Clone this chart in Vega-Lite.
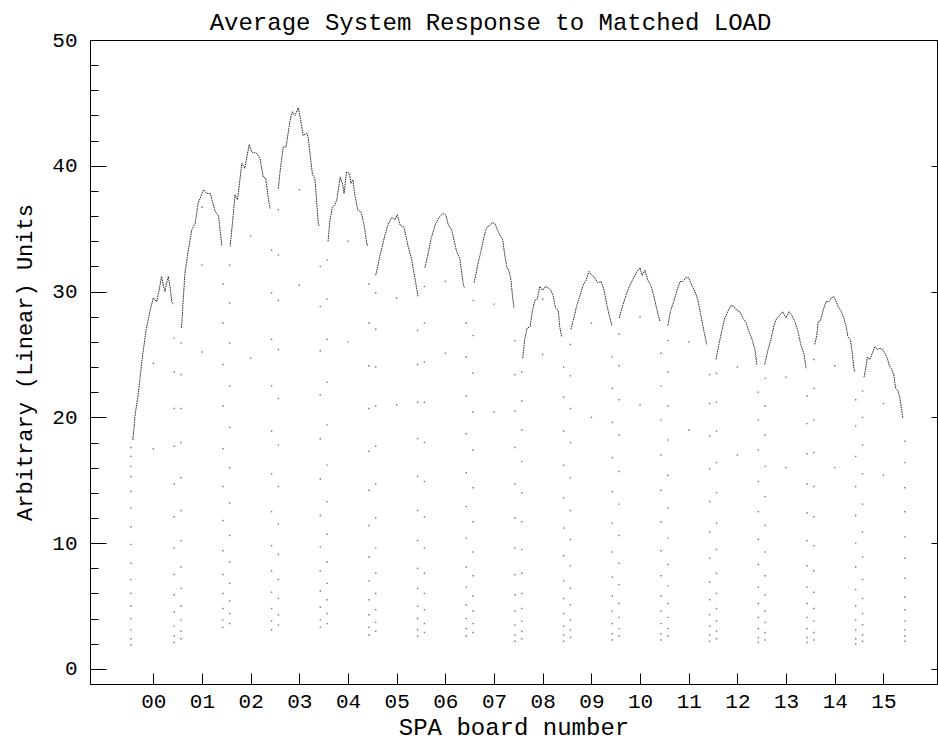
{
  "$schema": "https://vega.github.io/schema/vega-lite/v6.json",
  "width": 847,
  "height": 644,
  "autosize": "none",
  "padding": {"left": 90, "top": 40, "right": 1, "bottom": 57},
  "background": "white",
  "title": {"text": "Average System Response to Matched LOAD", "font": "Liberation Mono", "fontSize": 24, "fontWeight": "normal", "color": "black", "anchor": "middle", "frame": "group", "dx": -23, "baseline": "alphabetic", "offset": -25},
  "config": {
    "font": "Liberation Mono",
    "view": {"stroke": "black", "strokeWidth": 1},
    "axis": {"grid": false, "domainColor": "black", "tickColor": "black", "labelColor": "black", "titleColor": "black", "labelFont": "Liberation Mono", "titleFont": "Liberation Mono", "titleFontWeight": "normal", "domainWidth": 1, "tickWidth": 1}
  },
  "datasets": {
    "curve": [
      {"b":0,"x":-0.42,"y":18.2},{"b":0,"x":-0.37,"y":20.3},{"b":0,"x":-0.31,"y":21.8},{"b":0,"x":-0.23,"y":24.6},{"b":0,"x":-0.15,"y":26.9},{"b":0,"x":-0.07,"y":28.4},{"b":0,"x":0.0,"y":29.5},{"b":0,"x":0.07,"y":29.2},{"b":0,"x":0.12,"y":30.1},{"b":0,"x":0.17,"y":31.2},{"b":0,"x":0.21,"y":30.4},{"b":0,"x":0.24,"y":30.0},{"b":0,"x":0.27,"y":30.6},{"b":0,"x":0.31,"y":31.2},{"b":0,"x":0.35,"y":30.2},{"b":0,"x":0.38,"y":29.2},{"b":0,"x":0.41,"y":29.0},
      {"b":1,"x":0.58,"y":27.1},{"b":1,"x":0.65,"y":31.5},{"b":1,"x":0.72,"y":33.3},{"b":1,"x":0.79,"y":34.9},{"b":1,"x":0.86,"y":35.4},{"b":1,"x":0.92,"y":37.0},{"b":1,"x":0.99,"y":37.7},{"b":1,"x":1.03,"y":38.1},{"b":1,"x":1.1,"y":37.8},{"b":1,"x":1.17,"y":37.8},{"b":1,"x":1.27,"y":36.4},{"b":1,"x":1.34,"y":36.0},{"b":1,"x":1.41,"y":33.6},
      {"b":2,"x":1.58,"y":33.6},{"b":2,"x":1.64,"y":36.0},{"b":2,"x":1.68,"y":37.7},{"b":2,"x":1.73,"y":37.3},{"b":2,"x":1.82,"y":40.2},{"b":2,"x":1.88,"y":39.8},{"b":2,"x":1.97,"y":41.7},{"b":2,"x":2.02,"y":41.1},{"b":2,"x":2.12,"y":41.0},{"b":2,"x":2.19,"y":40.6},{"b":2,"x":2.26,"y":39.1},{"b":2,"x":2.31,"y":39.0},{"b":2,"x":2.36,"y":37.5},{"b":2,"x":2.4,"y":36.6},
      {"b":3,"x":2.57,"y":38.2},{"b":3,"x":2.6,"y":39.4},{"b":3,"x":2.67,"y":41.5},{"b":3,"x":2.73,"y":41.5},{"b":3,"x":2.77,"y":42.6},{"b":3,"x":2.82,"y":43.8},{"b":3,"x":2.86,"y":44.3},{"b":3,"x":2.91,"y":44.0},{"b":3,"x":2.98,"y":44.6},{"b":3,"x":3.02,"y":43.8},{"b":3,"x":3.08,"y":42.4},{"b":3,"x":3.15,"y":42.6},{"b":3,"x":3.18,"y":42.3},{"b":3,"x":3.27,"y":39.3},{"b":3,"x":3.32,"y":39.0},{"b":3,"x":3.39,"y":35.4},{"b":3,"x":3.41,"y":35.2},
      {"b":4,"x":3.59,"y":34.0},{"b":4,"x":3.63,"y":35.7},{"b":4,"x":3.68,"y":36.7},{"b":4,"x":3.73,"y":36.9},{"b":4,"x":3.77,"y":37.3},{"b":4,"x":3.84,"y":39.1},{"b":4,"x":3.89,"y":38.5},{"b":4,"x":3.92,"y":37.8},{"b":4,"x":3.97,"y":39.5},{"b":4,"x":4.03,"y":39.4},{"b":4,"x":4.06,"y":38.6},{"b":4,"x":4.1,"y":38.9},{"b":4,"x":4.14,"y":37.7},{"b":4,"x":4.2,"y":36.5},{"b":4,"x":4.27,"y":36.3},{"b":4,"x":4.33,"y":35.3},{"b":4,"x":4.39,"y":33.7},{"b":4,"x":4.43,"y":33.7},
      {"b":5,"x":4.57,"y":31.3},{"b":5,"x":4.66,"y":32.9},{"b":5,"x":4.76,"y":34.5},{"b":5,"x":4.82,"y":35.3},{"b":5,"x":4.9,"y":35.9},{"b":5,"x":4.96,"y":35.7},{"b":5,"x":5.01,"y":36.1},{"b":5,"x":5.07,"y":35.3},{"b":5,"x":5.15,"y":35.1},{"b":5,"x":5.23,"y":33.7},{"b":5,"x":5.31,"y":32.5},{"b":5,"x":5.4,"y":30.5},{"b":5,"x":5.44,"y":29.6},
      {"b":6,"x":5.58,"y":31.9},{"b":6,"x":5.64,"y":32.9},{"b":6,"x":5.7,"y":34.1},{"b":6,"x":5.79,"y":35.3},{"b":6,"x":5.87,"y":35.9},{"b":6,"x":5.95,"y":36.2},{"b":6,"x":6.01,"y":36.1},{"b":6,"x":6.06,"y":35.3},{"b":6,"x":6.13,"y":34.9},{"b":6,"x":6.16,"y":34.4},{"b":6,"x":6.23,"y":33.2},{"b":6,"x":6.3,"y":32.6},{"b":6,"x":6.33,"y":31.7},{"b":6,"x":6.37,"y":30.5},{"b":6,"x":6.4,"y":30.3},
      {"b":7,"x":6.59,"y":30.7},{"b":7,"x":6.64,"y":31.6},{"b":7,"x":6.68,"y":32.4},{"b":7,"x":6.72,"y":33.0},{"b":7,"x":6.78,"y":34.1},{"b":7,"x":6.83,"y":34.9},{"b":7,"x":6.88,"y":35.2},{"b":7,"x":6.93,"y":35.3},{"b":7,"x":6.97,"y":35.5},{"b":7,"x":7.02,"y":35.4},{"b":7,"x":7.07,"y":34.9},{"b":7,"x":7.12,"y":34.5},{"b":7,"x":7.18,"y":34.1},{"b":7,"x":7.22,"y":32.9},{"b":7,"x":7.26,"y":32.0},{"b":7,"x":7.31,"y":31.6},{"b":7,"x":7.35,"y":30.9},{"b":7,"x":7.38,"y":29.6},{"b":7,"x":7.41,"y":28.7},
      {"b":8,"x":7.59,"y":24.7},{"b":8,"x":7.63,"y":26.2},{"b":8,"x":7.68,"y":27.1},{"b":8,"x":7.74,"y":27.2},{"b":8,"x":7.79,"y":28.5},{"b":8,"x":7.84,"y":29.3},{"b":8,"x":7.89,"y":29.4},{"b":8,"x":7.94,"y":30.4},{"b":8,"x":8.0,"y":30.1},{"b":8,"x":8.05,"y":30.4},{"b":8,"x":8.11,"y":30.3},{"b":8,"x":8.17,"y":30.1},{"b":8,"x":8.22,"y":29.6},{"b":8,"x":8.26,"y":28.7},{"b":8,"x":8.32,"y":28.5},{"b":8,"x":8.35,"y":27.2},{"b":8,"x":8.39,"y":26.4},
      {"b":9,"x":8.58,"y":27.0},{"b":9,"x":8.64,"y":27.9},{"b":9,"x":8.7,"y":28.9},{"b":9,"x":8.76,"y":29.6},{"b":9,"x":8.83,"y":30.5},{"b":9,"x":8.89,"y":30.9},{"b":9,"x":8.95,"y":31.6},{"b":9,"x":9.01,"y":31.3},{"b":9,"x":9.07,"y":31.1},{"b":9,"x":9.13,"y":30.7},{"b":9,"x":9.2,"y":30.8},{"b":9,"x":9.26,"y":30.1},{"b":9,"x":9.32,"y":28.9},{"b":9,"x":9.38,"y":27.9},{"b":9,"x":9.42,"y":27.3},
      {"b":10,"x":9.57,"y":27.9},{"b":10,"x":9.63,"y":28.7},{"b":10,"x":9.71,"y":29.7},{"b":10,"x":9.79,"y":30.5},{"b":10,"x":9.87,"y":31.1},{"b":10,"x":9.94,"y":31.6},{"b":10,"x":10.0,"y":31.9},{"b":10,"x":10.04,"y":31.3},{"b":10,"x":10.1,"y":31.7},{"b":10,"x":10.16,"y":30.9},{"b":10,"x":10.22,"y":30.5},{"b":10,"x":10.28,"y":29.7},{"b":10,"x":10.35,"y":28.5},{"b":10,"x":10.41,"y":27.6},
      {"b":11,"x":10.57,"y":27.3},{"b":11,"x":10.63,"y":28.5},{"b":11,"x":10.7,"y":29.3},{"b":11,"x":10.76,"y":30.1},{"b":11,"x":10.82,"y":30.8},{"b":11,"x":10.88,"y":30.8},{"b":11,"x":10.94,"y":31.1},{"b":11,"x":11.0,"y":31.1},{"b":11,"x":11.06,"y":30.5},{"b":11,"x":11.13,"y":30.0},{"b":11,"x":11.19,"y":29.3},{"b":11,"x":11.25,"y":28.1},{"b":11,"x":11.31,"y":26.9},{"b":11,"x":11.37,"y":25.8},
      {"b":12,"x":11.56,"y":24.6},{"b":12,"x":11.62,"y":25.8},{"b":12,"x":11.68,"y":26.9},{"b":12,"x":11.74,"y":27.9},{"b":12,"x":11.8,"y":28.4},{"b":12,"x":11.87,"y":28.9},{"b":12,"x":11.93,"y":28.8},{"b":12,"x":11.99,"y":28.5},{"b":12,"x":12.05,"y":28.4},{"b":12,"x":12.11,"y":27.9},{"b":12,"x":12.17,"y":27.6},{"b":12,"x":12.24,"y":26.8},{"b":12,"x":12.3,"y":26.2},{"b":12,"x":12.36,"y":25.4},{"b":12,"x":12.4,"y":24.2},
      {"b":13,"x":12.56,"y":24.2},{"b":13,"x":12.63,"y":25.4},{"b":13,"x":12.69,"y":26.2},{"b":13,"x":12.75,"y":27.3},{"b":13,"x":12.81,"y":27.9},{"b":13,"x":12.87,"y":28.1},{"b":13,"x":12.93,"y":28.4},{"b":13,"x":13.0,"y":27.9},{"b":13,"x":13.06,"y":28.4},{"b":13,"x":13.12,"y":28.1},{"b":13,"x":13.18,"y":27.6},{"b":13,"x":13.24,"y":26.9},{"b":13,"x":13.3,"y":25.8},{"b":13,"x":13.37,"y":25.0},{"b":13,"x":13.41,"y":23.9},
      {"b":14,"x":13.59,"y":25.8},{"b":14,"x":13.63,"y":26.5},{"b":14,"x":13.66,"y":27.6},{"b":14,"x":13.71,"y":27.7},{"b":14,"x":13.76,"y":28.5},{"b":14,"x":13.82,"y":29.2},{"b":14,"x":13.88,"y":29.2},{"b":14,"x":13.93,"y":29.5},{"b":14,"x":13.98,"y":29.6},{"b":14,"x":14.02,"y":29.3},{"b":14,"x":14.07,"y":28.8},{"b":14,"x":14.12,"y":28.5},{"b":14,"x":14.17,"y":28.1},{"b":14,"x":14.23,"y":27.3},{"b":14,"x":14.27,"y":26.4},{"b":14,"x":14.32,"y":26.2},{"b":14,"x":14.36,"y":25.1},{"b":14,"x":14.39,"y":24.0},{"b":14,"x":14.41,"y":23.6},
      {"b":15,"x":14.6,"y":23.2},{"b":15,"x":14.64,"y":24.0},{"b":15,"x":14.67,"y":24.8},{"b":15,"x":14.72,"y":24.6},{"b":15,"x":14.78,"y":25.2},{"b":15,"x":14.82,"y":25.6},{"b":15,"x":14.88,"y":25.4},{"b":15,"x":14.93,"y":25.5},{"b":15,"x":14.98,"y":25.4},{"b":15,"x":15.03,"y":25.1},{"b":15,"x":15.08,"y":24.7},{"b":15,"x":15.12,"y":24.1},{"b":15,"x":15.16,"y":23.9},{"b":15,"x":15.21,"y":23.4},{"b":15,"x":15.25,"y":22.3},{"b":15,"x":15.3,"y":22.1},{"b":15,"x":15.34,"y":21.5},{"b":15,"x":15.37,"y":20.7},{"b":15,"x":15.4,"y":19.9}
    ],
    "drops": [
      {"x":-0.46,"y":1.9},{"x":-0.46,"y":2.4},{"x":-0.46,"y":3.1},{"x":-0.46,"y":4.0},{"x":-0.46,"y":5.0},{"x":-0.46,"y":6.0},{"x":-0.46,"y":7.1},{"x":-0.46,"y":8.4},{"x":-0.46,"y":9.9},{"x":-0.46,"y":11.3},{"x":-0.46,"y":12.8},{"x":-0.46,"y":14.1},{"x":-0.46,"y":15.3},{"x":-0.46,"y":16.1},{"x":-0.46,"y":16.9},{"x":-0.46,"y":17.6},
      {"x":0.43,"y":2.1},{"x":0.43,"y":2.6},{"x":0.43,"y":3.4},{"x":0.43,"y":4.5},{"x":0.43,"y":5.9},{"x":0.43,"y":7.5},{"x":0.43,"y":9.6},{"x":0.43,"y":12.1},{"x":0.43,"y":14.7},{"x":0.43,"y":17.7},{"x":0.43,"y":20.7},{"x":0.43,"y":23.6},{"x":0.43,"y":26.3},
      {"x":0.57,"y":2.4},{"x":0.57,"y":3.0},{"x":0.57,"y":3.9},{"x":0.57,"y":5.0},{"x":0.57,"y":6.4},{"x":0.57,"y":8.1},{"x":0.57,"y":10.2},{"x":0.57,"y":12.6},{"x":0.57,"y":15.2},{"x":0.57,"y":18.0},{"x":0.57,"y":20.7},{"x":0.57,"y":23.4},{"x":0.57,"y":25.9},
      {"x":1.43,"y":3.3},{"x":1.43,"y":3.9},{"x":1.43,"y":4.8},{"x":1.43,"y":6.0},{"x":1.43,"y":7.5},{"x":1.43,"y":9.4},{"x":1.43,"y":11.8},{"x":1.43,"y":14.5},{"x":1.43,"y":17.5},{"x":1.43,"y":20.9},{"x":1.43,"y":24.2},{"x":1.43,"y":27.5},{"x":1.43,"y":30.6},
      {"x":1.57,"y":3.6},{"x":1.57,"y":4.4},{"x":1.57,"y":5.4},{"x":1.57,"y":6.8},{"x":1.57,"y":8.5},{"x":1.57,"y":10.6},{"x":1.57,"y":13.2},{"x":1.57,"y":16.0},{"x":1.57,"y":19.2},{"x":1.57,"y":22.5},{"x":1.57,"y":25.9},{"x":1.57,"y":29.1},{"x":1.57,"y":32.1},
      {"x":2.43,"y":3.1},{"x":2.43,"y":3.8},{"x":2.43,"y":4.8},{"x":2.43,"y":6.1},{"x":2.43,"y":7.8},{"x":2.43,"y":9.8},{"x":2.43,"y":12.5},{"x":2.43,"y":15.5},{"x":2.43,"y":18.9},{"x":2.43,"y":22.5},{"x":2.43,"y":26.2},{"x":2.43,"y":29.9},{"x":2.43,"y":33.3},
      {"x":2.57,"y":3.5},{"x":2.57,"y":4.3},{"x":2.57,"y":5.6},{"x":2.57,"y":7.1},{"x":2.57,"y":9.1},{"x":2.57,"y":11.5},{"x":2.57,"y":14.5},{"x":2.57,"y":17.8},{"x":2.57,"y":21.5},{"x":2.57,"y":25.4},{"x":2.57,"y":29.3},{"x":2.57,"y":32.9},{"x":2.57,"y":36.5},
      {"x":3.43,"y":3.3},{"x":3.43,"y":3.9},{"x":3.43,"y":4.9},{"x":3.43,"y":6.2},{"x":3.43,"y":7.8},{"x":3.43,"y":9.7},{"x":3.43,"y":12.2},{"x":3.43,"y":15.1},{"x":3.43,"y":18.3},{"x":3.43,"y":21.8},{"x":3.43,"y":25.3},{"x":3.43,"y":28.8},{"x":3.43,"y":32.0},
      {"x":3.57,"y":3.6},{"x":3.57,"y":4.4},{"x":3.57,"y":5.5},{"x":3.57,"y":6.8},{"x":3.57,"y":8.5},{"x":3.57,"y":10.7},{"x":3.57,"y":13.3},{"x":3.57,"y":16.2},{"x":3.57,"y":19.4},{"x":3.57,"y":22.8},{"x":3.57,"y":26.2},{"x":3.57,"y":29.4},{"x":3.57,"y":32.5},
      {"x":4.43,"y":2.7},{"x":4.43,"y":3.3},{"x":4.43,"y":4.3},{"x":4.43,"y":5.5},{"x":4.43,"y":7.0},{"x":4.43,"y":8.9},{"x":4.43,"y":11.4},{"x":4.43,"y":14.2},{"x":4.43,"y":17.3},{"x":4.43,"y":20.7},{"x":4.43,"y":24.1},{"x":4.43,"y":27.5},{"x":4.43,"y":30.6},
      {"x":4.57,"y":3.0},{"x":4.57,"y":3.7},{"x":4.57,"y":4.7},{"x":4.57,"y":6.0},{"x":4.57,"y":7.6},{"x":4.57,"y":9.6},{"x":4.57,"y":12.0},{"x":4.57,"y":14.7},{"x":4.57,"y":17.7},{"x":4.57,"y":20.9},{"x":4.57,"y":24.0},{"x":4.57,"y":27.0},{"x":4.57,"y":29.9},
      {"x":5.43,"y":2.6},{"x":5.43,"y":3.1},{"x":5.43,"y":4.0},{"x":5.43,"y":5.0},{"x":5.43,"y":6.4},{"x":5.43,"y":8.0},{"x":5.43,"y":10.2},{"x":5.43,"y":12.6},{"x":5.43,"y":15.3},{"x":5.43,"y":18.3},{"x":5.43,"y":21.2},{"x":5.43,"y":24.2},{"x":5.43,"y":26.9},
      {"x":5.57,"y":2.9},{"x":5.57,"y":3.6},{"x":5.57,"y":4.7},{"x":5.57,"y":6.0},{"x":5.57,"y":7.6},{"x":5.57,"y":9.6},{"x":5.57,"y":12.1},{"x":5.57,"y":14.9},{"x":5.57,"y":18.0},{"x":5.57,"y":21.2},{"x":5.57,"y":24.4},{"x":5.57,"y":27.5},{"x":5.57,"y":30.4},
      {"x":6.43,"y":2.6},{"x":6.43,"y":3.2},{"x":6.43,"y":4.0},{"x":6.43,"y":5.1},{"x":6.43,"y":6.5},{"x":6.43,"y":8.1},{"x":6.43,"y":10.4},{"x":6.43,"y":12.9},{"x":6.43,"y":15.6},{"x":6.43,"y":18.7},{"x":6.43,"y":21.7},{"x":6.43,"y":24.8},{"x":6.43,"y":27.5},
      {"x":6.57,"y":2.9},{"x":6.57,"y":3.6},{"x":6.57,"y":4.6},{"x":6.57,"y":5.8},{"x":6.57,"y":7.4},{"x":6.57,"y":9.3},{"x":6.57,"y":11.7},{"x":6.57,"y":14.4},{"x":6.57,"y":17.4},{"x":6.57,"y":20.4},{"x":6.57,"y":23.5},{"x":6.57,"y":26.5},{"x":6.57,"y":29.3},
      {"x":7.43,"y":2.2},{"x":7.43,"y":2.7},{"x":7.43,"y":3.5},{"x":7.43,"y":4.6},{"x":7.43,"y":5.9},{"x":7.43,"y":7.5},{"x":7.43,"y":9.6},{"x":7.43,"y":12.0},{"x":7.43,"y":14.7},{"x":7.43,"y":17.6},{"x":7.43,"y":20.5},{"x":7.43,"y":23.4},{"x":7.43,"y":26.1},
      {"x":7.57,"y":2.4},{"x":7.57,"y":3.0},{"x":7.57,"y":3.8},{"x":7.57,"y":4.8},{"x":7.57,"y":6.0},{"x":7.57,"y":7.6},{"x":7.57,"y":9.5},{"x":7.57,"y":11.7},{"x":7.57,"y":14.0},{"x":7.57,"y":16.5},{"x":7.57,"y":19.0},{"x":7.57,"y":21.3},{"x":7.57,"y":23.6},
      {"x":8.43,"y":2.2},{"x":8.43,"y":2.7},{"x":8.43,"y":3.4},{"x":8.43,"y":4.4},{"x":8.43,"y":5.6},{"x":8.43,"y":7.0},{"x":8.43,"y":9.0},{"x":8.43,"y":11.2},{"x":8.43,"y":13.6},{"x":8.43,"y":16.2},{"x":8.43,"y":18.9},{"x":8.43,"y":21.6},{"x":8.43,"y":24.0},
      {"x":8.57,"y":2.5},{"x":8.57,"y":3.1},{"x":8.57,"y":3.9},{"x":8.57,"y":5.1},{"x":8.57,"y":6.4},{"x":8.57,"y":8.2},{"x":8.57,"y":10.3},{"x":8.57,"y":12.6},{"x":8.57,"y":15.2},{"x":8.57,"y":18.0},{"x":8.57,"y":20.7},{"x":8.57,"y":23.3},{"x":8.57,"y":25.8},
      {"x":9.43,"y":2.3},{"x":9.43,"y":2.8},{"x":9.43,"y":3.6},{"x":9.43,"y":4.6},{"x":9.43,"y":5.8},{"x":9.43,"y":7.3},{"x":9.43,"y":9.3},{"x":9.43,"y":11.6},{"x":9.43,"y":14.1},{"x":9.43,"y":16.8},{"x":9.43,"y":19.6},{"x":9.43,"y":22.3},{"x":9.43,"y":24.8},
      {"x":9.57,"y":2.6},{"x":9.57,"y":3.2},{"x":9.57,"y":4.1},{"x":9.57,"y":5.2},{"x":9.57,"y":6.7},{"x":9.57,"y":8.4},{"x":9.57,"y":10.6},{"x":9.57,"y":13.1},{"x":9.57,"y":15.7},{"x":9.57,"y":18.6},{"x":9.57,"y":21.4},{"x":9.57,"y":24.1},{"x":9.57,"y":26.6},
      {"x":10.43,"y":2.3},{"x":10.43,"y":2.8},{"x":10.43,"y":3.6},{"x":10.43,"y":4.6},{"x":10.43,"y":5.8},{"x":10.43,"y":7.4},{"x":10.43,"y":9.4},{"x":10.43,"y":11.7},{"x":10.43,"y":14.2},{"x":10.43,"y":17.0},{"x":10.43,"y":19.8},{"x":10.43,"y":22.5},{"x":10.43,"y":25.1},
      {"x":10.57,"y":2.6},{"x":10.57,"y":3.2},{"x":10.57,"y":4.1},{"x":10.57,"y":5.2},{"x":10.57,"y":6.6},{"x":10.57,"y":8.3},{"x":10.57,"y":10.4},{"x":10.57,"y":12.8},{"x":10.57,"y":15.4},{"x":10.57,"y":18.2},{"x":10.57,"y":20.9},{"x":10.57,"y":23.6},{"x":10.57,"y":26.1},
      {"x":11.43,"y":2.2},{"x":11.43,"y":2.7},{"x":11.43,"y":3.4},{"x":11.43,"y":4.3},{"x":11.43,"y":5.5},{"x":11.43,"y":6.9},{"x":11.43,"y":8.8},{"x":11.43,"y":10.9},{"x":11.43,"y":13.3},{"x":11.43,"y":15.9},{"x":11.43,"y":18.5},{"x":11.43,"y":21.1},{"x":11.43,"y":23.4},
      {"x":11.57,"y":2.4},{"x":11.57,"y":3.0},{"x":11.57,"y":3.8},{"x":11.57,"y":4.8},{"x":11.57,"y":6.0},{"x":11.57,"y":7.6},{"x":11.57,"y":9.5},{"x":11.57,"y":11.6},{"x":11.57,"y":14.0},{"x":11.57,"y":16.4},{"x":11.57,"y":18.9},{"x":11.57,"y":21.2},{"x":11.57,"y":23.5},
      {"x":12.43,"y":2.1},{"x":12.43,"y":2.5},{"x":12.43,"y":3.2},{"x":12.43,"y":4.1},{"x":12.43,"y":5.2},{"x":12.43,"y":6.5},{"x":12.43,"y":8.3},{"x":12.43,"y":10.3},{"x":12.43,"y":12.5},{"x":12.43,"y":14.9},{"x":12.43,"y":17.4},{"x":12.43,"y":19.8},{"x":12.43,"y":22.0},
      {"x":12.57,"y":2.3},{"x":12.57,"y":2.9},{"x":12.57,"y":3.7},{"x":12.57,"y":4.6},{"x":12.57,"y":5.9},{"x":12.57,"y":7.4},{"x":12.57,"y":9.3},{"x":12.57,"y":11.4},{"x":12.57,"y":13.7},{"x":12.57,"y":16.1},{"x":12.57,"y":18.6},{"x":12.57,"y":20.9},{"x":12.57,"y":23.1},
      {"x":13.43,"y":2.1},{"x":13.43,"y":2.5},{"x":13.43,"y":3.2},{"x":13.43,"y":4.1},{"x":13.43,"y":5.2},{"x":13.43,"y":6.5},{"x":13.43,"y":8.2},{"x":13.43,"y":10.2},{"x":13.43,"y":12.4},{"x":13.43,"y":14.7},{"x":13.43,"y":17.1},{"x":13.43,"y":19.5},{"x":13.43,"y":21.7},
      {"x":13.57,"y":2.3},{"x":13.57,"y":2.9},{"x":13.57,"y":3.8},{"x":13.57,"y":4.8},{"x":13.57,"y":6.1},{"x":13.57,"y":7.8},{"x":13.57,"y":9.8},{"x":13.57,"y":12.1},{"x":13.57,"y":14.5},{"x":13.57,"y":17.2},{"x":13.57,"y":19.8},{"x":13.57,"y":22.3},{"x":13.57,"y":24.6},
      {"x":14.43,"y":2.0},{"x":14.43,"y":2.4},{"x":14.43,"y":3.1},{"x":14.43,"y":3.9},{"x":14.43,"y":5.0},{"x":14.43,"y":6.3},{"x":14.43,"y":8.1},{"x":14.43,"y":10.0},{"x":14.43,"y":12.2},{"x":14.43,"y":14.5},{"x":14.43,"y":16.9},{"x":14.43,"y":19.3},{"x":14.43,"y":21.4},
      {"x":14.57,"y":2.2},{"x":14.57,"y":2.7},{"x":14.57,"y":3.5},{"x":14.57,"y":4.4},{"x":14.57,"y":5.6},{"x":14.57,"y":7.1},{"x":14.57,"y":8.9},{"x":14.57,"y":10.9},{"x":14.57,"y":13.1},{"x":14.57,"y":15.5},{"x":14.57,"y":17.8},{"x":14.57,"y":20.0},{"x":14.57,"y":22.1},
      {"x":15.44,"y":2.2},{"x":15.44,"y":2.6},{"x":15.44,"y":3.1},{"x":15.44,"y":3.8},{"x":15.44,"y":4.7},{"x":15.44,"y":5.7},{"x":15.44,"y":7.2},{"x":15.44,"y":8.8},{"x":15.44,"y":10.5},{"x":15.44,"y":12.5},{"x":15.44,"y":14.4},{"x":15.44,"y":16.4},{"x":15.44,"y":18.1}
    ],
    "centers": [
      {"x":0,"y":24.3},{"x":0,"y":17.5},{"x":1,"y":36.7},{"x":1,"y":32.1},{"x":1,"y":25.2},{"x":2,"y":34.4},{"x":2,"y":24.7},{"x":3,"y":38.1},{"x":3,"y":30.5},{"x":4,"y":34.0},{"x":4,"y":26.0},{"x":5,"y":29.5},{"x":5,"y":21.0},{"x":6,"y":30.8},{"x":6,"y":25.1},{"x":7,"y":29.0},{"x":7,"y":20.4},{"x":8,"y":29.4},{"x":8,"y":25.0},{"x":9,"y":27.5},{"x":9,"y":20.0},{"x":10,"y":28.0},{"x":10,"y":21.0},{"x":11,"y":26.0},{"x":11,"y":19.0},{"x":12,"y":24.0},{"x":12,"y":17.0},{"x":13,"y":23.2},{"x":13,"y":16.0},{"x":14,"y":24.1},{"x":14,"y":16.0},{"x":15,"y":21.1},{"x":15,"y":15.4}
    ]
  },
  "encoding": {
    "x": {"field": "x", "type": "quantitative", "scale": {"domain": [-1.3, 16.1], "nice": false, "zero": false},
      "axis": {"orient": "bottom", "values": [0,1,2,3,4,5,6,7,8,9,10,11,12,13,14,15], "labelExpr": "datum.value < 10 ? '0' + datum.value : '' + datum.value", "tickSize": -11, "labelPadding": 17, "labelFontSize": 21, "labelOverlap": false, "labelFlush": false, "title": "SPA board number", "titleFontSize": 24, "titlePadding": 4}}
  },
  "layer": [
    {
      "data": {"name": "curve"},
      "mark": {"type": "line", "color": "#2a2a2a", "strokeWidth": 1, "strokeDash": [1.6, 0.8]},
      "encoding": {
        "detail": {"field": "b", "type": "nominal"},
        "y": {"field": "y", "type": "quantitative", "scale": {"domain": [-1.2, 50], "nice": false, "zero": false},
          "axis": {"orient": "left", "values": [0,10,20,30,40,50], "tickSize": -16, "labelPadding": 29, "labelFontSize": 21, "labelOverlap": false, "labelFlush": false, "title": "Arbitrary (Linear) Units", "titleFontSize": 22, "titlePadding": 15}}
      }
    },
    {
      "data": {"name": "drops"},
      "mark": {"type": "square", "size": 2, "color": "#555", "opacity": 0.8},
      "encoding": {
        "y": {"field": "y", "type": "quantitative", "scale": {"domain": [-1.2, 50], "nice": false, "zero": false},
          "axis": {"orient": "left", "values": [2,4,6,8,12,14,16,18,22,24,26,28,32,34,36,38,42,44,46,48], "tickSize": -8, "labels": false, "domain": false, "title": null}}
      }
    },
    {
      "data": {"name": "centers"},
      "mark": {"type": "square", "size": 2, "color": "#555", "opacity": 0.8},
      "encoding": {
        "y": {"field": "y", "type": "quantitative", "scale": {"domain": [-1.2, 50], "nice": false, "zero": false},
          "axis": {"orient": "right", "values": [0,10,20,30,40,50], "tickSize": -6, "labels": false, "domain": false, "title": null}}
      }
    }
  ],
  "resolve": {"axis": {"y": "independent"}}
}
